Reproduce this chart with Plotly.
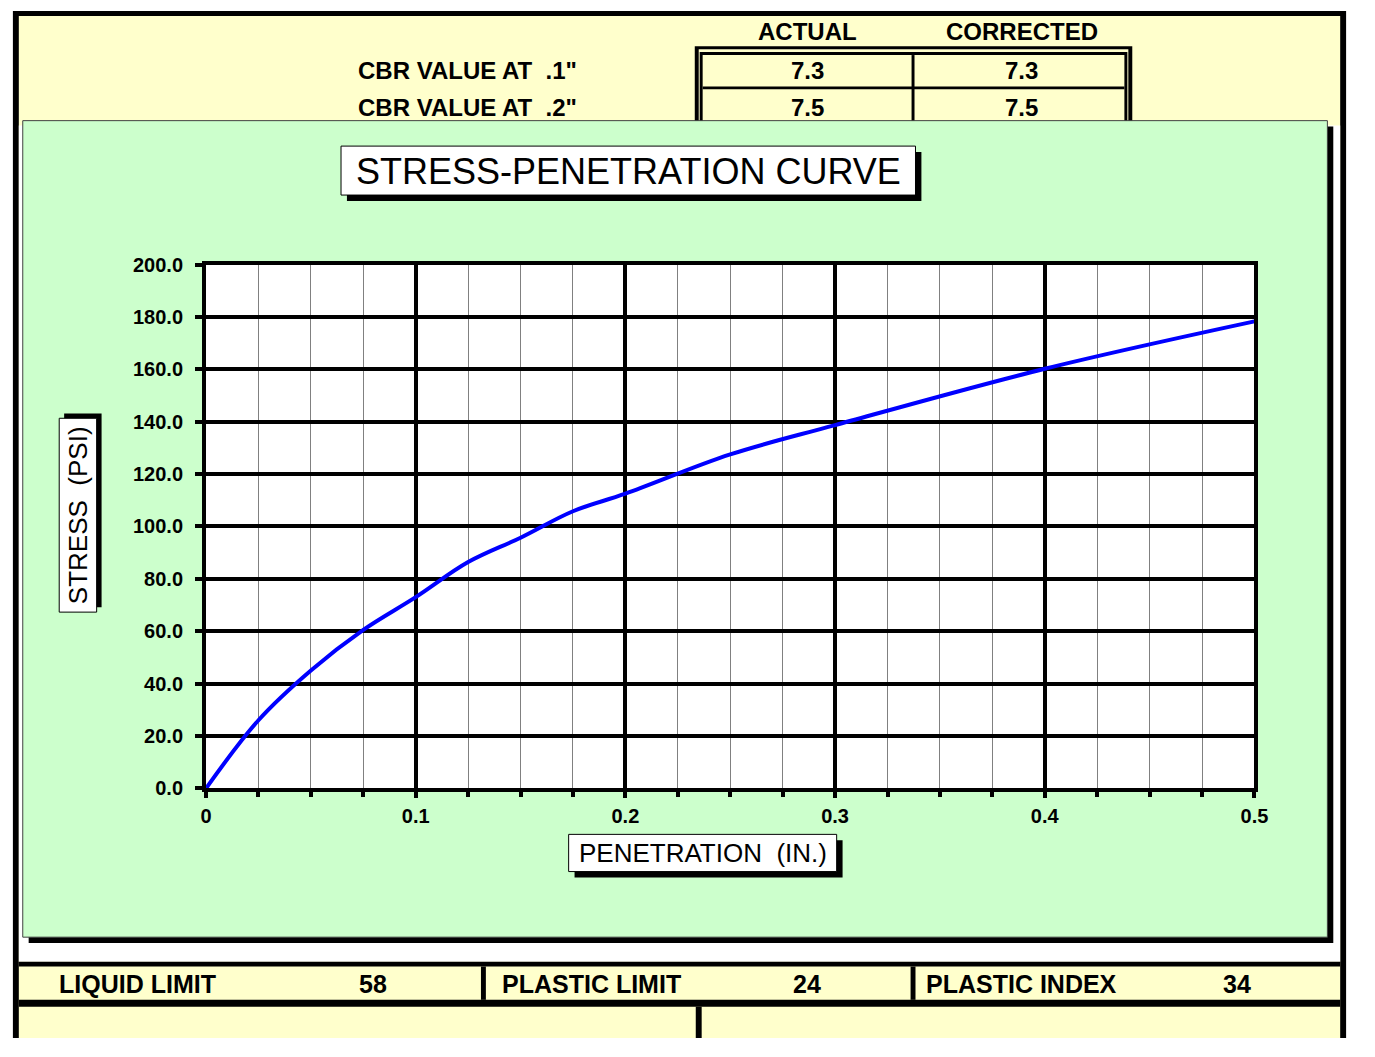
import plotly.graph_objects as go

# Load test readings: penetration (in.) vs. stress (psi)
penetration = [0, 0.025, 0.05, 0.075, 0.1, 0.125, 0.15, 0.175, 0.2, 0.25, 0.3, 0.4, 0.5]
stress = [0, 26.0, 45.0, 60.5, 73.0, 86.4, 95.7, 105.8, 112.5, 127.5, 138.7, 160.2, 178.3]

# CBR summary table
cbr_labels = ['CBR VALUE AT  .1"', 'CBR VALUE AT  .2"']
cbr_columns = ["ACTUAL", "CORRECTED"]
cbr_actual = ["7.3", "7.5"]
cbr_corrected = ["7.3", "7.5"]

# Atterberg limits
limit_names = ["LIQUID LIMIT", "PLASTIC LIMIT", "PLASTIC INDEX"]
limit_values = ["58", "24", "34"]

# The page body keeps its default 8px margin: the figure starts 8px in and
# runs to the window's right/bottom edge; sheet coordinates are page pixels.
PAGE_W, PAGE_H = 1375, 1057
BODY_MARGIN = 8
W, H = PAGE_W - BODY_MARGIN, PAGE_H - BODY_MARGIN
FONT = "Liberation Sans"
YELLOW = "#FFFFCC"
GREEN = "#CCFFCC"


def fx(x):
    return (x - BODY_MARGIN) / W


def fy(y):
    return 1 - (y - BODY_MARGIN) / H


def rect(x0, y0, x1, y1, fill, line_color=None, line_width=0, layer="below"):
    return dict(
        type="rect", xref="paper", yref="paper",
        x0=fx(x0), x1=fx(x1), y0=fy(y1), y1=fy(y0),
        fillcolor=fill,
        line=dict(color=line_color or fill, width=line_width),
        layer=layer,
    )


def text(x, y, s, size, bold=True, xanchor="center", angle=0):
    return dict(
        xref="paper", yref="paper", x=fx(x), y=fy(y), text=s,
        showarrow=False, xanchor=xanchor, yanchor="middle", textangle=angle,
        font=dict(family=FONT, size=size, color="black",
                  weight="bold" if bold else "normal"),
    )


shapes = []
# sheet frame and background fills
shapes.append(rect(15, 8, 1368, 1057, "black"))
shapes.append(rect(21, 13, 1362, 1057, YELLOW))
shapes.append(rect(21, 125, 1362, 979, "white"))

# CBR table: double outer border, cell grid
shapes.append(rect(707, 44, 1151, 140, "black"))
shapes.append(rect(711, 47, 1147, 140, YELLOW))
shapes.append(rect(712, 50, 1146, 140, "black"))
shapes.append(rect(715, 53, 1143, 140, YELLOW))
shapes.append(rect(715, 85, 1143, 88, "black"))
shapes.append(rect(927, 53, 930, 140, "black"))

# chart panel with drop shadow
shapes.append(rect(31, 126, 1355, 960, "black"))
shapes.append(rect(25, 120, 1349, 954, GREEN, "#404040", 1))

# white plotting area
shapes.append(rect(211, 267, 1275, 802, "white"))

# chart title box with shadow
shapes.append(rect(354, 152, 937, 202, "black"))
shapes.append(rect(348, 146, 931, 196, "white", "black", 1))
# y-axis title box (shadow up/right)
shapes.append(rect(67, 419, 105, 617, "black"))
shapes.append(rect(62, 424, 100, 622, "white", "black", 1))
# x-axis title box
shapes.append(rect(585, 855, 857, 893, "black"))
shapes.append(rect(579, 849, 851, 887, "white", "black", 1))

# limits rows
shapes.append(rect(21, 979, 1362, 984, "black"))
shapes.append(rect(21, 1018, 1362, 1025, "black"))
shapes.append(rect(490, 984, 495, 1018, "black"))
shapes.append(rect(926, 984, 931, 1018, "black"))
shapes.append(rect(708, 1025, 714, 1057, "black"))

annotations = []
annotations.append(text(640, 172, "STRESS-PENETRATION CURVE", 36, bold=False))
annotations.append(text(81, 523, "STRESS  (PSI)", 26, bold=False, angle=-90))
annotations.append(text(715, 868, "PENETRATION  (IN.)", 26, bold=False))

col_x = [821, 1039]
row_y = [69, 107]
for cx, name in zip(col_x, cbr_columns):
    annotations.append(text(cx, 29, name, 24))
for ry, lab, a, c in zip(row_y, cbr_labels, cbr_actual, cbr_corrected):
    annotations.append(text(363, ry, lab, 24, xanchor="left"))
    annotations.append(text(col_x[0], ry, a, 24))
    annotations.append(text(col_x[1], ry, c, 24))

name_x = [60, 509, 940]
value_x = [380, 821, 1257]
for nx, vx, n, v in zip(name_x, value_x, limit_names, limit_values):
    annotations.append(text(nx, 1002, n, 25, xanchor="left"))
    annotations.append(text(vx, 1002, v, 25))

fig = go.Figure()
fig.add_trace(go.Scatter(
    x=penetration, y=stress, mode="lines",
    line=dict(color="#0000FF", width=4, shape="spline", smoothing=1.0),
    showlegend=False, hoverinfo="x+y",
))

tick_font = dict(family=FONT, size=20, color="black", weight="bold")

fig.update_layout(
    width=W, height=H,
    margin=dict(l=0, r=0, t=0, b=0),
    paper_bgcolor="white",
    plot_bgcolor="rgba(0,0,0,0)",
    shapes=shapes,
    annotations=annotations,
    showlegend=False,
    xaxis=dict(
        domain=[fx(211), fx(1275)],
        range=[0, 0.5], dtick=0.1, tick0=0,
        showline=True, linecolor="black", linewidth=4, mirror=True,
        showgrid=True, gridcolor="black", gridwidth=4,
        zeroline=False,
        ticks="outside", ticklen=6, tickwidth=4, tickcolor="black",
        ticklabelstandoff=1,
        tickfont=tick_font,
        minor=dict(dtick=0.025, showgrid=True, gridcolor="#808080", gridwidth=1,
                   ticks="outside", ticklen=5, tickwidth=4, tickcolor="black"),
    ),
    yaxis=dict(
        domain=[fy(802), fy(267)],
        range=[0, 200], dtick=20, tick0=0, tickformat=".1f",
        showline=True, linecolor="black", linewidth=4, mirror=True,
        showgrid=True, gridcolor="black", gridwidth=4,
        zeroline=False,
        ticks="outside", ticklen=7, tickwidth=4, tickcolor="black",
        ticklabelstandoff=8,
        tickfont=tick_font,
    ),
)

fig.write_html("out.html")
